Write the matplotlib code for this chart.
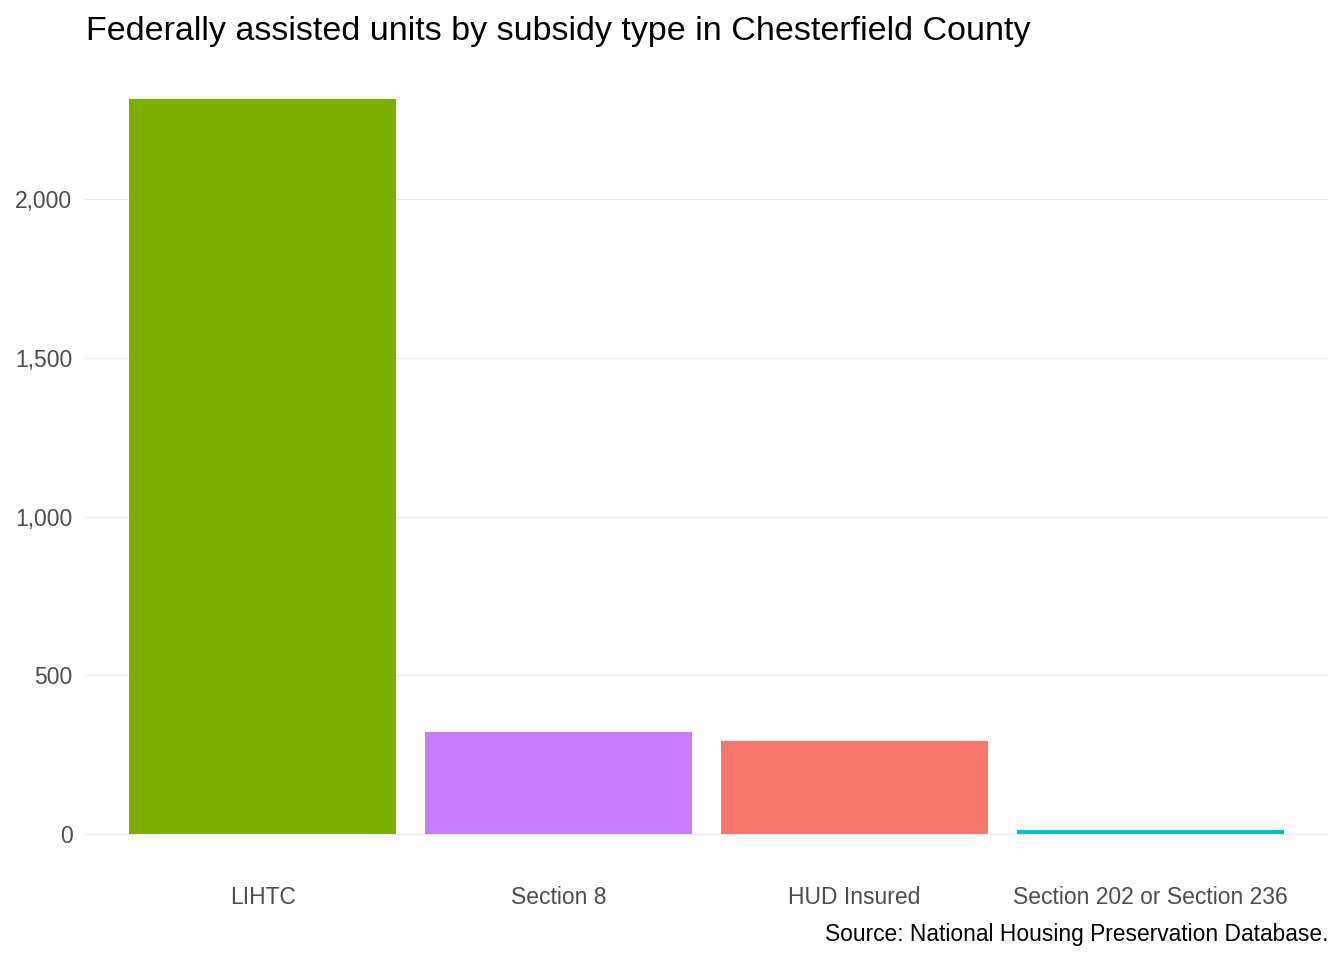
import matplotlib
matplotlib.use("Agg")
import matplotlib.pyplot as plt
from matplotlib.ticker import FuncFormatter

categories = ["LIHTC", "Section 8", "HUD Insured", "Section 202 or Section 236"]
units = [2315, 321, 293, 13]
colors = ["#7CAE00", "#C77CFF", "#F8766D", "#00BFC4"]
yticks = [0, 500, 1000, 1500, 2000]

plt.rcParams['font.family'] = ['Liberation Sans', 'DejaVu Sans']

W, H = 1344, 960
fig = plt.figure(figsize=(W / 100, H / 100), dpi=100)
left, right, top, bottom = 85, 1328, 62, 871
ax = fig.add_axes([left / W, 1 - bottom / H, (right - left) / W, (bottom - top) / H])

x = list(range(1, len(categories) + 1))
ax.bar(x, units, width=0.9, color=colors, zorder=2)

ymax = max(units)
ax.set_ylim(-0.05 * ymax, 1.05 * ymax)
ax.set_xlim(0.4, len(categories) + 0.6)
ax.set_yticks(yticks)
ax.yaxis.set_major_formatter(FuncFormatter(lambda v, p: f"{int(v):,}"))
ax.set_xticks(x)
ax.set_xticklabels(categories)
ax.tick_params(axis='both', length=0, labelsize=16.5, labelcolor="#4D4D4D")
ax.tick_params(axis='x', pad=10.5)
ax.tick_params(axis='y', pad=9)
ax.grid(axis='y', color="#EBEBEB", linewidth=0.8, zorder=0)
ax.grid(axis='x', visible=False)
for s in ax.spines.values():
    s.set_visible(False)

fig.text(86 / W, 1 - 40 / H, "Federally assisted units by subsidy type in Chesterfield County",
         fontsize=24.5, color="black", ha="left", va="baseline")
fig.text(1328 / W, 1 - 941 / H, "Source: National Housing Preservation Database.",
         fontsize=16.4, color="black", ha="right", va="baseline")

fig.savefig("out.png", dpi=100, facecolor="white")
